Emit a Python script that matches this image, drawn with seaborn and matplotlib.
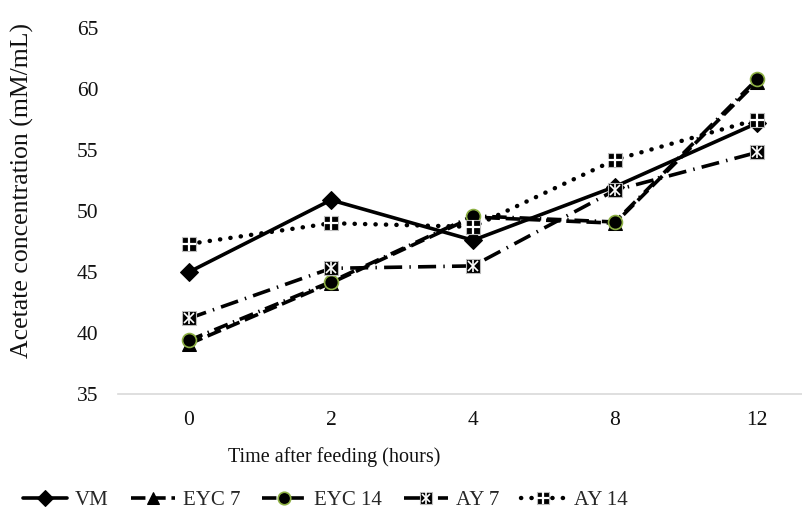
import matplotlib
matplotlib.use("Agg")
import matplotlib.pyplot as plt
from matplotlib.legend_handler import HandlerTuple
import seaborn as sns
import numpy as np

time_labels = ["0", "2", "4", "8", "12"]
vm = [45.0, 50.9, 47.6, 52.0, 57.2]
eyc7 = [39.1, 44.1, 49.5, 49.0, 60.6]
eyc14 = [39.4, 44.2, 49.6, 49.1, 60.8]
ay7 = [41.2, 45.3, 45.5, 51.7, 54.8]
ay14 = [47.3, 49.0, 48.7, 54.2, 57.5]

sns.set_theme(style="white")
plt.rcParams['font.family'] = ['Liberation Serif', 'DejaVu Serif']

W, H = 803, 519
fig = plt.figure(figsize=(W / 100, H / 100), dpi=100)
left, right = 118, 828
bottom, top = 394, 28
ax = fig.add_axes([left / W, 1 - bottom / H, (right - left) / W, (bottom - top) / H])

x = np.arange(len(time_labels))
lw = 2.6
green = "#8DB043"

sns.lineplot(x=x, y=vm, ax=ax, color="black", lw=lw, marker="D", markersize=9,
             markeredgecolor="black", label="VM")
sns.lineplot(x=x, y=eyc7, ax=ax, color="black", lw=lw, marker="^", markersize=10,
             markeredgecolor="black", label="EYC 7", linestyle=(0, (4, 1.6)))
sns.lineplot(x=x, y=eyc14, ax=ax, color="black", lw=lw, marker="o", markersize=10,
             markeredgecolor=green, markeredgewidth=1.2, label="EYC 14",
             linestyle=(0, (4, 1.6, 0.4, 1.6)))
sns.lineplot(x=x, y=ay7, ax=ax, color="black", lw=lw, marker="s", markersize=10,
             markeredgecolor="#bbbbbb", markeredgewidth=0.8, label="AY 7",
             linestyle=(0, (5, 2, 0.4, 2)))
sns.lineplot(x=x, y=ay14, ax=ax, color="black", lw=3.2, marker="s", markersize=10,
             markeredgecolor="#bbbbbb", markeredgewidth=0.8, label="AY 14",
             linestyle=(0, (0.05, 2.3)), dash_capstyle="round")

# white glyphs inside square markers
gx1, = ax.plot(x, ay7, linestyle="none", marker="x", markersize=7, markeredgecolor="white",
               markeredgewidth=1.2)
gx2, = ax.plot(x, ay7, linestyle="none", marker="|", markersize=9, markeredgecolor="white",
               markeredgewidth=1.2)
gp, = ax.plot(x, ay14, linestyle="none", marker="+", markersize=10, markeredgecolor="white",
              markeredgewidth=1.6)

ax.set_xlim(-0.5, len(time_labels) - 0.5)
ax.set_ylim(35, 65)
ax.set_yticks(np.arange(35, 66, 5))
ax.set_xticks(x)
ax.set_xticklabels(time_labels)
ax.tick_params(axis="y", length=0, pad=14, labelsize=15.5, colors="#111111")
ax.tick_params(axis="x", length=0, pad=12, labelsize=15.5, colors="#111111")
for s in ["top", "right", "left"]:
    ax.spines[s].set_visible(False)
ax.spines["bottom"].set_color("#d9d9d9")
ax.spines["bottom"].set_linewidth(1.2)
ax.grid(False)

ax.set_xlabel("Time after feeding (hours)", fontsize=14.5, color="#111111")
ax.xaxis.set_label_coords((334 - left) / (right - left), -(447 - bottom) / (bottom - top))
ax.set_ylabel("")
fig.text(22 / W, 1 - 190 / H, "Acetate concentration (mM/mL)", rotation=90,
         ha="center", va="center", fontsize=18.5, color="#111111")

handles, labels = ax.get_legend_handles_labels()
h = handles[:5]
leg_handles = [h[0], h[1], h[2], (h[3], gx1, gx2), (h[4], gp)]
ax.legend(leg_handles, labels[:5], loc="center", bbox_to_anchor=(0.405, 0.036),
          bbox_transform=fig.transFigure, ncol=5, frameon=False, fontsize=15,
          handlelength=2.1, columnspacing=1.05, handletextpad=0.4, markerscale=0.9,
          handler_map={tuple: HandlerTuple(ndivide=1, pad=0)})

fig.savefig("out.png", dpi=100)
